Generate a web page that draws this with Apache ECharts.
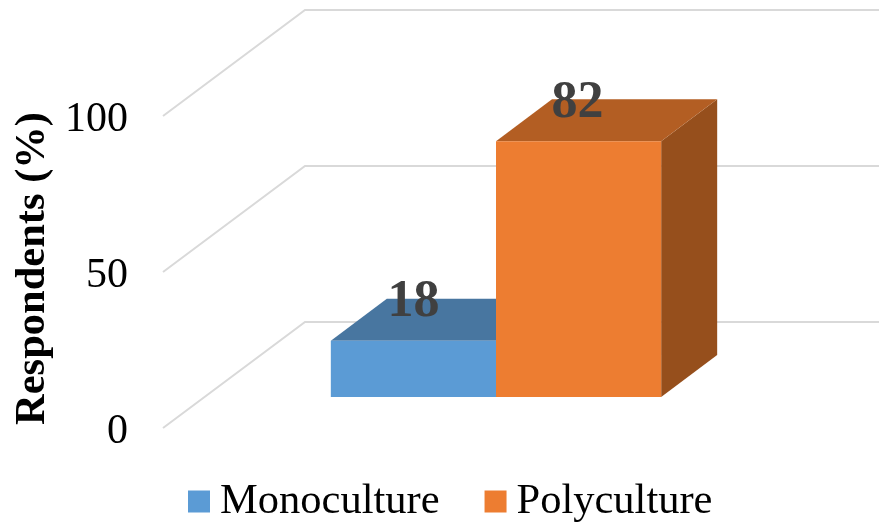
<!DOCTYPE html>
<html>
<head>
<meta charset="utf-8">
<style>html,body{margin:0;padding:0;background:#fff}#c{width:879px;height:525px}</style>
<script src="https://cdn.jsdelivr.net/npm/echarts@6/dist/echarts.min.js"></script>
</head>
<body>
<div id="c"></div>
<script>
var categories = ['Respondents'];
var seriesNames = ['Monoculture', 'Polyculture'];
var monoculture = [18];
var polyculture = [82];
var yTicks = [0, 50, 100];

var FONT = '"Liberation Serif","Times New Roman",serif';
var wallDepth = [142, -106];
var barDepth = [56, -42];
var floorLift = -31;
var barWidthRatio = 0.248;

function gridItem(params, api) {
  var cs = params.coordSys;
  var y = api.coord([0, api.value(1)])[1];
  var style = { stroke: '#D9D9D9', lineWidth: 2, fill: null };
  return {
    type: 'polyline',
    shape: { points: [[cs.x, y], [cs.x + wallDepth[0], y + wallDepth[1]], [cs.x + cs.width + wallDepth[0], y + wallDepth[1]]] },
    style: style
  };
}

function barItem(slot, front, top, side) {
  return function (params, api) {
    var base = api.coord([api.value(0), 0]);
    var head = api.coord([api.value(0), api.value(1)]);
    var w = api.size([1, 0])[0] * barWidthRatio;
    var x0 = base[0] + slot * w, x1 = x0 + w;
    var yb = base[1] + floorLift, yt = head[1] + floorLift;
    var dx = barDepth[0], dy = barDepth[1];
    return {
      type: 'group',
      children: [
        { type: 'polygon', shape: { points: [[x1, yb], [x1 + dx, yb + dy], [x1 + dx, yt + dy], [x1, yt]] }, style: { fill: side } },
        { type: 'polygon', shape: { points: [[x0, yt], [x0 + dx, yt + dy], [x1 + dx, yt + dy], [x1, yt]] }, style: { fill: top } },
        { type: 'rect', shape: { x: x0, y: yt, width: w, height: yb - yt }, style: { fill: front } },
        { type: 'text', z2: 10, style: { x: (x0 + x1) / 2 - (slot === 0 ? 1 : 0), y: yt - 38, text: String(api.value(1)), fill: '#404040', font: 'bold 52px ' + FONT, align: 'center', verticalAlign: 'middle' } }
      ]
    };
  };
}

var chart = echarts.init(document.getElementById('c'), null, { renderer: 'canvas' });
chart.setOption({
  animation: false,
  backgroundColor: '#fff',
  grid: { left: 163, top: 116, width: 666, height: 312, containLabel: false, outerBoundsMode: 'none' },
  legend: {
    data: seriesNames,
    left: 188, top: 480,
    icon: 'rect', itemWidth: 22, itemHeight: 22, itemGap: 45,
    padding: 0, selectedMode: false,
    textStyle: { fontFamily: FONT, fontSize: 42.5, color: '#000', padding: [0, 0, 0, 5] }
  },
  xAxis: { type: 'category', data: categories, show: false },
  yAxis: {
    type: 'value', min: 0, max: 100, interval: 50,
    name: 'Respondents (%)', nameLocation: 'middle', nameGap: 107, nameRotate: 90,
    nameTextStyle: { fontFamily: FONT, fontWeight: 'bold', fontSize: 42.5, color: '#000', padding: [0, 0, 0, 7] },
    axisLine: { show: false }, axisTick: { show: false }, splitLine: { show: false },
    axisLabel: { margin: 35, formatter: '{t|{value}}',
      rich: { t: { fontFamily: FONT, fontSize: 42, color: '#000', padding: [8, 0, 0, 0] } } }
  },
  series: [
    { type: 'custom', name: 'grid', silent: true, z: 1, renderItem: gridItem, data: yTicks.map(function (v) { return [0, v]; }) },
    { type: 'custom', name: seriesNames[0], silent: true, z: 2, itemStyle: { color: '#5B9BD5' },
      renderItem: barItem(-1, '#5B9BD5', '#4876A0', '#41709C'), data: monoculture.map(function (v, i) { return [i, v]; }) },
    { type: 'custom', name: seriesNames[1], silent: true, z: 3, itemStyle: { color: '#ED7D31' },
      renderItem: barItem(0, '#ED7D31', '#B35E23', '#964F1C'), data: polyculture.map(function (v, i) { return [i, v]; }) }
  ]
});
</script>
</body>
</html>
